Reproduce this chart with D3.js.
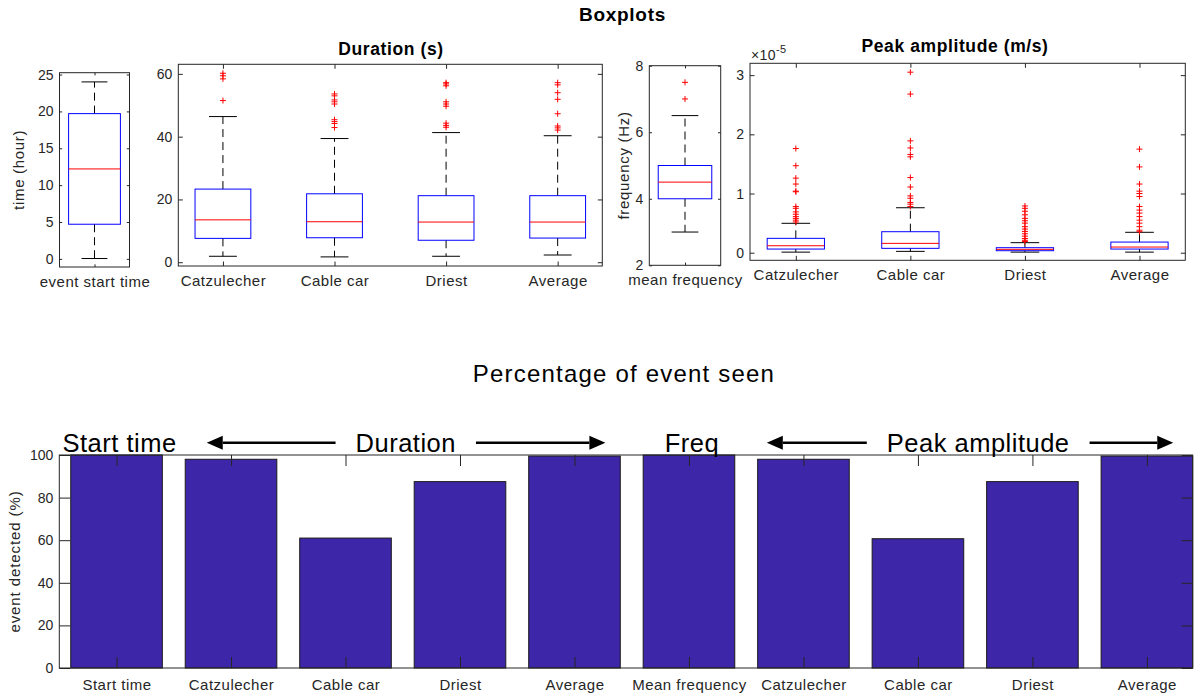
<!DOCTYPE html>
<html>
<head>
<meta charset="utf-8">
<script src="https://cdn.jsdelivr.net/npm/d3@7"></script>
<style>
  body { margin: 0; background: #fff; }
  svg { display: block; font-family: "Liberation Sans", Arial, Helvetica, sans-serif; }
</style>
</head>
<body>
<svg id="fig" width="1204" height="698"></svg>
<script>
// ---------- event start time (hour) ----------
const startCategories = ["event start time"];
const startLow = [0.05];
const startQ1 = [4.7];
const startMedian = [12.2];
const startQ3 = [19.7];
const startHigh = [24.0];
const startOutliers = [[]];
const startTicks = [0, 5, 10, 15, 20, 25];

// ---------- duration (s) ----------
const durationCategories = ["Catzulecher", "Cable car", "Driest", "Average"];
const durationLow = [1.9, 1.7, 1.9, 2.3];
const durationQ1 = [7.6, 7.8, 7.0, 7.7];
const durationMedian = [13.5, 12.9, 12.8, 12.8];
const durationQ3 = [23.3, 21.8, 21.2, 21.2];
const durationHigh = [46.4, 39.4, 41.3, 40.3];
const durationOutliers = [
  [60.2, 59.4, 58.4, 51.5],
  [53.6, 53.0, 51.7, 51.1, 50.4, 45.4, 44.8, 44.2, 42.9],
  [57.2, 56.8, 56.2, 51.1, 50.4, 49.7, 44.3, 43.6, 43.0],
  [57.2, 56.5, 54.0, 51.9, 47.3, 43.4, 42.8, 42.1]
];
const durationTicks = [0, 20, 40, 60];

// ---------- mean frequency (Hz) ----------
const freqCategories = ["mean frequency"];
const freqLow = [3.0];
const freqQ1 = [4.0];
const freqMedian = [4.5];
const freqQ3 = [5.0];
const freqHigh = [6.5];
const freqOutliers = [[7.5, 7.0]];
const freqTicks = [2, 4, 6, 8];

// ---------- peak amplitude (m/s) ----------
const peakCategories = ["Catzulecher", "Cable car", "Driest", "Average"];
const peakLow = [0.01e-5, 0.023e-5, 0.01e-5, 0.01e-5];
const peakQ1 = [0.062e-5, 0.074e-5, 0.034e-5, 0.062e-5];
const peakMedian = [0.118e-5, 0.158e-5, 0.057e-5, 0.096e-5];
const peakQ3 = [0.243e-5, 0.355e-5, 0.085e-5, 0.18e-5];
const peakHigh = [0.497e-5, 0.76e-5, 0.17e-5, 0.345e-5];
const peakOutliers = [
  [1.76e-5, 1.47e-5, 1.26e-5, 1.16e-5, 1.04e-5, 1.03e-5, 0.78e-5, 0.75e-5, 0.69e-5, 0.65e-5, 0.61e-5, 0.58e-5, 0.55e-5, 0.52e-5],
  [3.05e-5, 2.68e-5, 1.89e-5, 1.77e-5, 1.66e-5, 1.62e-5, 1.27e-5, 1.11e-5, 0.96e-5, 0.92e-5, 0.85e-5, 0.82e-5, 0.78e-5],
  [0.79e-5, 0.75e-5, 0.70e-5, 0.64e-5, 0.58e-5, 0.54e-5, 0.50e-5, 0.44e-5, 0.40e-5, 0.36e-5, 0.32e-5, 0.28e-5, 0.24e-5, 0.21e-5, 0.19e-5],
  [1.75e-5, 1.45e-5, 1.16e-5, 1.04e-5, 1.0e-5, 0.95e-5, 0.78e-5, 0.72e-5, 0.67e-5, 0.61e-5, 0.55e-5, 0.50e-5, 0.44e-5, 0.38e-5, 0.355e-5]
];
const peakTicks = [0, 1e-5, 2e-5, 3e-5];

// ---------- percentage of events detected ----------
const barCategories = ["Start time", "Catzulecher", "Cable car", "Driest", "Average",
                       "Mean frequency", "Catzulecher", "Cable car", "Driest", "Average"];
const detectedPercent = [100, 98.0, 61.0, 87.5, 99.5, 100, 98.0, 60.7, 87.5, 99.5];
const percentTicks = [0, 20, 40, 60, 80, 100];
const groupLabels = ["Start time", "Duration", "Freq", "Peak amplitude"];
const groupFirst = [1, 2, 6, 7];
const groupLast = [1, 5, 6, 10];

// ---------- drawing ----------
const AXIS = "#262626";
const svg = d3.select("#fig");
svg.append("rect").attr("width", 1204).attr("height", 698).attr("fill", "#fff");

function styleAxis(g, fontSize, spacing) {
  g.select(".domain").remove();
  g.selectAll(".tick line").attr("stroke", AXIS).attr("stroke-width", 1);
  g.selectAll(".tick text")
    .attr("fill", AXIS)
    .style("font-size", fontSize + "px")
    .style("letter-spacing", (spacing || 0) + "px");
}

function boxPanel(p) {
  const g = svg.append("g");
  const x = d3.scaleLinear().domain(p.xDomain).range([p.left, p.right]);
  const y = d3.scaleLinear().domain(p.yDomain).range([p.bottom, p.top]);
  const idx = p.cats.map((_, i) => i + 1);
  const half = (x(p.boxWidth) - x(0)) / 2;

  idx.forEach((pos, i) => {
    const cx = x(pos);
    // whiskers
    g.append("line").attr("x1", cx).attr("x2", cx).attr("y1", y(p.q3[i])).attr("y2", y(p.high[i]))
      .attr("stroke", "#000").attr("stroke-dasharray", "8,5");
    g.append("line").attr("x1", cx).attr("x2", cx).attr("y1", y(p.q1[i])).attr("y2", y(p.low[i]))
      .attr("stroke", "#000").attr("stroke-dasharray", "8,5");
    // whisker caps
    [p.high[i], p.low[i]].forEach(v => {
      g.append("line").attr("x1", cx - half / 2).attr("x2", cx + half / 2)
        .attr("y1", y(v)).attr("y2", y(v)).attr("stroke", "#000");
    });
    // box
    g.append("rect").attr("x", cx - half).attr("width", 2 * half)
      .attr("y", y(p.q3[i])).attr("height", y(p.q1[i]) - y(p.q3[i]))
      .attr("fill", "none").attr("stroke", "#0000ff");
    // median
    g.append("line").attr("x1", cx - half).attr("x2", cx + half)
      .attr("y1", y(p.med[i])).attr("y2", y(p.med[i])).attr("stroke", "#ff0000");
    // outliers
    g.selectAll(null).data(p.outliers[i]).enter().append("path")
      .attr("d", d => `M${cx - 3},${y(d)}H${cx + 3}M${cx},${y(d) - 3}V${y(d) + 3}`)
      .attr("stroke", "#ff0000").attr("fill", "none");
  });

  // axes (ticks pointing inwards)
  g.append("g").attr("transform", `translate(${p.left},0)`)
    .call(d3.axisLeft(y).tickValues(p.ticks).tickSize(-p.tickLen).tickSizeOuter(0).tickPadding(6)
      .tickFormat(p.tickFormat || d3.format("d")))
    .call(a => styleAxis(a, 14));
  g.append("g").attr("transform", `translate(${p.right},0)`)
    .call(d3.axisRight(y).tickValues(p.ticks).tickSize(-p.tickLen).tickSizeOuter(0).tickFormat(""))
    .call(a => styleAxis(a, 14));
  g.append("g").attr("transform", `translate(0,${p.bottom})`)
    .call(d3.axisBottom(x).tickValues(idx).tickSize(-p.tickLen).tickSizeOuter(0).tickPadding(9.5)
      .tickFormat(d => p.cats[d - 1]))
    .call(a => styleAxis(a, 15, 0.5));
  g.append("g").attr("transform", `translate(0,${p.top})`)
    .call(d3.axisTop(x).tickValues(idx).tickSize(-p.tickLen).tickSizeOuter(0).tickFormat(""))
    .call(a => styleAxis(a, 15));
  g.append("rect").attr("x", p.left).attr("y", p.top)
    .attr("width", p.right - p.left).attr("height", p.bottom - p.top)
    .attr("fill", "none").attr("stroke", AXIS);

  if (p.title) {
    g.append("text").attr("x", p.titleX).attr("y", p.titleY).attr("text-anchor", "middle")
      .style("font-size", "17.5px").style("font-weight", "bold").style("letter-spacing", "0.6px")
      .attr("fill", "#000").text(p.title);
  }
  if (p.ylabel) {
    g.append("text").attr("transform", `translate(${p.ylabelX},${(p.top + p.bottom) / 2}) rotate(-90)`)
      .attr("text-anchor", "middle").style("font-size", "15px").style("letter-spacing", "0.7px")
      .attr("fill", AXIS).text(p.ylabel);
  }
  return { x, y, g };
}

// overall title
svg.append("text").attr("x", 622.5).attr("y", 21).attr("text-anchor", "middle")
  .style("font-size", "19px").style("font-weight", "bold").style("letter-spacing", "0.7px")
  .text("Boxplots");

boxPanel({
  left: 59.5, right: 129.5, top: 72.7, bottom: 267,
  xDomain: [0.5, 1.5], yDomain: [-1.1, 25.25], boxWidth: 0.74, tickLen: 2.7,
  cats: startCategories, low: startLow, q1: startQ1, med: startMedian, q3: startQ3,
  high: startHigh, outliers: startOutliers, ticks: startTicks,
  ylabel: "time (hour)", ylabelX: 24
});

boxPanel({
  left: 178.3, right: 602.3, top: 64.3, bottom: 266,
  xDomain: [0.6, 4.4], yDomain: [-1.2, 63.05], boxWidth: 0.5, tickLen: 4.5,
  cats: durationCategories, low: durationLow, q1: durationQ1, med: durationMedian, q3: durationQ3,
  high: durationHigh, outliers: durationOutliers, ticks: durationTicks,
  title: "Duration (s)", titleX: 391, titleY: 54.5
});

boxPanel({
  left: 649.3, right: 720.7, top: 65.7, bottom: 265.3,
  xDomain: [0.5, 1.5], yDomain: [2, 8], boxWidth: 0.75, tickLen: 2.7,
  cats: freqCategories, low: freqLow, q1: freqQ1, med: freqMedian, q3: freqQ3,
  high: freqHigh, outliers: freqOutliers, ticks: freqTicks,
  ylabel: "frequency (Hz)", ylabelX: 629
});

const peak = boxPanel({
  left: 750, right: 1185.3, top: 63.3, bottom: 260.3,
  xDomain: [0.6, 4.4], yDomain: [-0.128e-5, 3.2e-5], boxWidth: 0.5, tickLen: 4.5,
  cats: peakCategories, low: peakLow, q1: peakQ1, med: peakMedian, q3: peakQ3,
  high: peakHigh, outliers: peakOutliers, ticks: peakTicks,
  tickFormat: v => String(Math.round(v / 1e-5)),
  title: "Peak amplitude (m/s)", titleX: 955, titleY: 51.5
});
// axis exponent
const expo = peak.g.append("text").attr("x", 751).attr("y", 60).attr("fill", AXIS)
  .style("font-size", "14px").style("letter-spacing", "0.4px");
expo.append("tspan").text("×10");
expo.append("tspan").attr("dy", -7).style("font-size", "11px").text("-5");

// ---------- bar chart ----------
const bl = 59.3, br = 1192.7, bt = 455, bb = 668;
const bx = d3.scaleLinear().domain([0.5, 10.4]).range([bl, br]);
const by = d3.scaleLinear().domain([0, 100]).range([bb, bt]);
const barIdx = barCategories.map((_, i) => i + 1);
const bg = svg.append("g");

svg.append("text").attr("x", 624).attr("y", 381.7).attr("text-anchor", "middle")
  .style("font-size", "24px").style("letter-spacing", "1.2px").attr("fill", "#000")
  .text("Percentage of event seen");

bg.selectAll("rect.bar").data(detectedPercent).enter().append("rect")
  .attr("class", "bar")
  .attr("x", (d, i) => bx(i + 1 - 0.4))
  .attr("width", bx(0.8) - bx(0))
  .attr("y", d => by(d))
  .attr("height", d => by(0) - by(d))
  .attr("fill", "#3e26a8").attr("stroke", "#1a1a1a").attr("stroke-width", 1);

bg.append("g").attr("transform", `translate(${bl},0)`)
  .call(d3.axisLeft(by).tickValues(percentTicks).tickSize(-11).tickSizeOuter(0).tickPadding(6))
  .call(a => styleAxis(a, 14));
bg.append("g").attr("transform", `translate(${br},0)`)
  .call(d3.axisRight(by).tickValues(percentTicks).tickSize(-11).tickSizeOuter(0).tickFormat(""))
  .call(a => styleAxis(a, 14));
bg.append("g").attr("transform", `translate(0,${bb})`)
  .call(d3.axisBottom(bx).tickValues(barIdx).tickSize(-11).tickSizeOuter(0).tickPadding(11)
    .tickFormat(d => barCategories[d - 1]))
  .call(a => styleAxis(a, 15, 0.5));
bg.append("g").attr("transform", `translate(0,${bt})`)
  .call(d3.axisTop(bx).tickValues(barIdx).tickSize(-11).tickSizeOuter(0).tickFormat(""))
  .call(a => styleAxis(a, 15));
bg.append("rect").attr("x", bl).attr("y", bt).attr("width", br - bl).attr("height", bb - bt)
  .attr("fill", "none").attr("stroke", AXIS);

bg.append("text").attr("transform", `translate(19.5,${(bt + bb) / 2}) rotate(-90)`)
  .attr("text-anchor", "middle").style("font-size", "15px").style("letter-spacing", "0.9px")
  .attr("fill", AXIS).text("event detected (%)");

// group annotations with arrows spanning each group of bars
const arrowTips = { 1: [1.788, 5.27], 3: [6.68, 10.23] };
groupLabels.forEach((label, i) => {
  const cx = bx((groupFirst[i] + groupLast[i]) / 2) + 3;
  const t = bg.append("text").attr("x", cx).attr("y", 452.3).attr("text-anchor", "middle")
    .style("font-size", "25.5px").style("letter-spacing", "0.5px").attr("fill", "#000").text(label);
  const tips = arrowTips[i];
  if (!tips) return;
  const w = t.node().getComputedTextLength();
  const gap = 20;
  drawArrow(cx - w / 2 - gap, bx(tips[0]), 442.7);
  drawArrow(cx + w / 2 + gap, bx(tips[1]), 442.7);
});

function drawArrow(x0, x1, yy) {
  const dir = Math.sign(x1 - x0);
  const head = 16;
  bg.append("line").attr("x1", x0).attr("x2", x1 - dir * head).attr("y1", yy).attr("y2", yy)
    .attr("stroke", "#000").attr("stroke-width", 2.6);
  bg.append("path")
    .attr("d", `M${x1},${yy}L${x1 - dir * head},${yy - 7}L${x1 - dir * head},${yy + 7}Z`)
    .attr("fill", "#000");
}
</script>
</body>
</html>
